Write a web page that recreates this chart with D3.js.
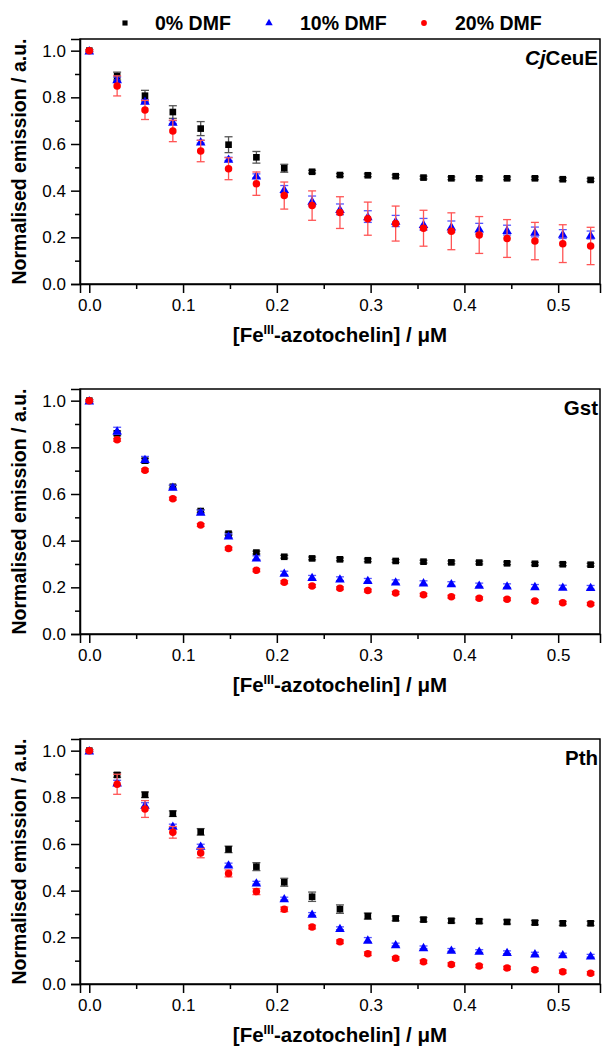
<!DOCTYPE html>
<html><head><meta charset="utf-8">
<script src="https://cdn.jsdelivr.net/npm/d3@7"></script>
<style>body{margin:0;background:#fff}svg{display:block}text{font-family:"Liberation Sans",Arial,sans-serif}</style>
</head><body>
<script>
// ---------- data ----------
const xValues = [0, 0.0297, 0.0594, 0.0891, 0.1188, 0.1485, 0.1782, 0.2079, 0.2376, 0.2673,
  0.297, 0.3267, 0.3564, 0.3861, 0.4158, 0.4455, 0.4752, 0.5049, 0.5346];
const seriesNames = ["0% DMF", "10% DMF", "20% DMF"];
const panelNames = ["CjCeuE", "Gst", "Pth"];
const yTickValues = [0, 0.2, 0.4, 0.6, 0.8, 1.0];
const xTickValues = [0, 0.1, 0.2, 0.3, 0.4, 0.5];

// CjCeuE
const cj0 = [1.0, 0.891, 0.807, 0.737, 0.666, 0.597, 0.543, 0.496, 0.481, 0.467, 0.466, 0.462, 0.456, 0.453, 0.453, 0.453, 0.453, 0.449, 0.446];
const cj0Err = [0.004, 0.017, 0.023, 0.027, 0.030, 0.034, 0.025, 0.017, 0.006, 0.006, 0.006, 0.006, 0.006, 0.006, 0.006, 0.006, 0.006, 0.006, 0.006];
const cj10 = [1.0, 0.877, 0.784, 0.694, 0.610, 0.536, 0.464, 0.406, 0.356, 0.320, 0.289, 0.270, 0.256, 0.246, 0.237, 0.231, 0.223, 0.214, 0.210];
const cj10Err = [0.004, 0.010, 0.006, 0.006, 0.006, 0.007, 0.008, 0.016, 0.021, 0.023, 0.025, 0.024, 0.025, 0.024, 0.023, 0.021, 0.021, 0.019, 0.017];
const cj20 = [1.0, 0.849, 0.746, 0.656, 0.570, 0.494, 0.430, 0.379, 0.336, 0.306, 0.280, 0.259, 0.239, 0.226, 0.210, 0.195, 0.184, 0.173, 0.163];
const cj20Err = [0.004, 0.043, 0.041, 0.046, 0.046, 0.047, 0.050, 0.058, 0.063, 0.068, 0.071, 0.075, 0.077, 0.079, 0.079, 0.081, 0.080, 0.081, 0.080];
// Gst
const gst0 = [1.0, 0.860, 0.743, 0.631, 0.527, 0.430, 0.349, 0.331, 0.324, 0.320, 0.316, 0.313, 0.310, 0.307, 0.306, 0.303, 0.301, 0.299, 0.297];
const gst0Err = [0.004, 0.010, 0.010, 0.006, 0.006, 0.006, 0.006, 0.006, 0.006, 0.006, 0.006, 0.006, 0.006, 0.006, 0.006, 0.006, 0.006, 0.006, 0.006];
const gst10 = [1.0, 0.871, 0.749, 0.630, 0.523, 0.421, 0.327, 0.261, 0.243, 0.237, 0.230, 0.224, 0.220, 0.216, 0.210, 0.207, 0.204, 0.201, 0.200];
const gst10Err = [0.004, 0.015, 0.012, 0.008, 0.008, 0.008, 0.008, 0.008, 0.008, 0.008, 0.008, 0.008, 0.008, 0.008, 0.008, 0.008, 0.008, 0.008, 0.008];
const gst20 = [1.0, 0.832, 0.702, 0.580, 0.467, 0.366, 0.273, 0.222, 0.206, 0.196, 0.186, 0.176, 0.168, 0.160, 0.153, 0.149, 0.141, 0.134, 0.129];
const gst20Err = [0.004, 0.006, 0.006, 0.006, 0.006, 0.006, 0.006, 0.006, 0.006, 0.006, 0.006, 0.006, 0.006, 0.006, 0.006, 0.006, 0.006, 0.006, 0.006];
// Pth
const pth0 = [1.0, 0.896, 0.811, 0.730, 0.652, 0.577, 0.503, 0.436, 0.374, 0.321, 0.291, 0.281, 0.276, 0.271, 0.269, 0.266, 0.263, 0.260, 0.260];
const pth0Err = [0.004, 0.010, 0.012, 0.012, 0.014, 0.014, 0.017, 0.017, 0.020, 0.018, 0.013, 0.010, 0.009, 0.009, 0.009, 0.009, 0.009, 0.009, 0.009];
const pth10 = [1.0, 0.863, 0.767, 0.677, 0.591, 0.511, 0.434, 0.366, 0.300, 0.239, 0.189, 0.169, 0.157, 0.146, 0.141, 0.136, 0.130, 0.126, 0.121];
const pth10Err = [0.004, 0.010, 0.010, 0.008, 0.008, 0.007, 0.006, 0.006, 0.006, 0.006, 0.010, 0.006, 0.006, 0.006, 0.006, 0.006, 0.006, 0.006, 0.006];
const pth20 = [1.0, 0.856, 0.750, 0.650, 0.561, 0.474, 0.396, 0.320, 0.244, 0.181, 0.130, 0.110, 0.095, 0.084, 0.077, 0.069, 0.061, 0.053, 0.046];
const pth20Err = [0.004, 0.043, 0.036, 0.025, 0.020, 0.015, 0.013, 0.010, 0.008, 0.008, 0.008, 0.007, 0.007, 0.007, 0.007, 0.007, 0.007, 0.007, 0.007];

const panels = [
  {name: panelNames[0], series: [[cj0, cj0Err], [cj10, cj10Err], [cj20, cj20Err]]},
  {name: panelNames[1], series: [[gst0, gst0Err], [gst10, gst10Err], [gst20, gst20Err]]},
  {name: panelNames[2], series: [[pth0, pth0Err], [pth10, pth10Err], [pth20, pth20Err]]}
];

// ---------- layout ----------
const W = 602, H = 1057;
const left = 80, right = 600, plotH = 245;
const tops = [39, 389, 739];
const colors = ["#000000", "#0000ff", "#ff0000"];
const barColors = ["#555555", "#5555ff", "#ff5555"];
const shapes = [d3.symbolSquare, d3.symbolTriangle, d3.symbolCircle];
const sizes = [44, 40, 44];

const svg = d3.select("body").append("svg").attr("width", W).attr("height", H);

const x = d3.scaleLinear().domain([-0.0099, 0.5446]).range([left, right]);

// legend
const legendItems = [{mx: 125, tx: 155}, {mx: 269, tx: 300}, {mx: 424, tx: 455}];
legendItems.forEach((it, i) => {
  svg.append("path").attr("d", d3.symbol(shapes[i], sizes[i] * 0.6)())
    .attr("transform", `translate(${it.mx},${23})`).attr("fill", colors[i]);
  svg.append("text").attr("x", it.tx).attr("y", 30).attr("font-size", 19.5)
    .attr("font-weight", "bold").text(seriesNames[i]);
});

panels.forEach((p, pi) => {
  const top = tops[pi];
  const y = d3.scaleLinear().domain([0, 1.05]).range([top + plotH, top]);
  const g = svg.append("g");

  // frame
  g.append("rect").attr("x", left).attr("y", top).attr("width", right - left).attr("height", plotH)
    .attr("fill", "none").attr("stroke", "#000").attr("stroke-width", 1.5);

  // minor ticks
  const yMinor = d3.range(0.1, 1.05, 0.2);
  const xMinor = d3.range(0.05, 0.545, 0.1);
  const xAxisMinor = d3.axisBottom(x).tickValues(xMinor).tickSize(5).tickFormat("");
  const yAxisMinor = d3.axisLeft(y).tickValues(yMinor).tickSize(5).tickFormat("");
  g.append("g").attr("transform", `translate(0,${top + plotH})`).call(xAxisMinor);
  g.append("g").attr("transform", `translate(${left},0)`).call(yAxisMinor);

  const xAxis = d3.axisBottom(x).tickValues(xTickValues).tickSize(9).tickPadding(6).tickFormat(d3.format(".1f"));
  const yAxis = d3.axisLeft(y).tickValues(yTickValues).tickSize(9).tickPadding(5).tickFormat(d3.format(".1f"));
  const gx = g.append("g").attr("transform", `translate(0,${top + plotH})`).call(xAxis);
  const gy = g.append("g").attr("transform", `translate(${left},0)`).call(yAxis);
  [gx, gy].forEach(a => {
    a.selectAll("text").attr("font-size", 17).attr("fill", "#000").attr("font-family", '"Liberation Sans",Arial,sans-serif');
    a.select(".domain").attr("stroke-width", 1.5);
  });
  g.selectAll(".tick line").attr("stroke-width", 1.5);

  // axis titles
  const xt = g.append("text").attr("x", 340).attr("y", top + plotH + 58).attr("text-anchor", "middle")
    .attr("font-size", 20.5).attr("font-weight", "bold");
  xt.append("tspan").text("[Fe");
  xt.append("tspan").attr("dy", -8).attr("font-size", 12.5).text("III");
  xt.append("tspan").attr("dy", 8).text("-azotochelin] / \u03bcM");

  g.append("text").attr("transform", `translate(26,${top + plotH / 2}) rotate(-90)`)
    .attr("text-anchor", "middle").attr("font-size", 19.5).attr("font-weight", "bold")
    .text("Normalised emission / a.u.");

  // panel label
  const pl = g.append("text").attr("x", 598).attr("y", top + 26).attr("text-anchor", "end")
    .attr("font-size", 20.5).attr("font-weight", "bold");
  if (p.name === "CjCeuE") {
    pl.append("tspan").attr("font-style", "italic").text("Cj");
    pl.append("tspan").text("CeuE");
  } else pl.text(p.name);

  // series
  p.series.forEach(([vals, errs], si) => {
    const sg = g.append("g");
    vals.forEach((v, i) => {
      const cx = x(xValues[i]);
      const y1 = y(v + errs[i]), y2 = y(v - errs[i]);
      sg.append("line").attr("x1", cx).attr("x2", cx).attr("y1", y1).attr("y2", y2)
        .attr("stroke", barColors[si]).attr("stroke-width", 1.3);
      [y1, y2].forEach(yy => sg.append("line").attr("x1", cx - 4).attr("x2", cx + 4)
        .attr("y1", yy).attr("y2", yy).attr("stroke", barColors[si]).attr("stroke-width", 1.3));
    });
    sg.selectAll("path.pt").data(vals).join("path").attr("class", "pt")
      .attr("d", d3.symbol(shapes[si], sizes[si])())
      .attr("transform", (v, i) => `translate(${x(xValues[i])},${y(v) + (si === 1 ? 1 : 0)})`)
      .attr("fill", colors[si]);
  });
});
</script>
</body></html>
